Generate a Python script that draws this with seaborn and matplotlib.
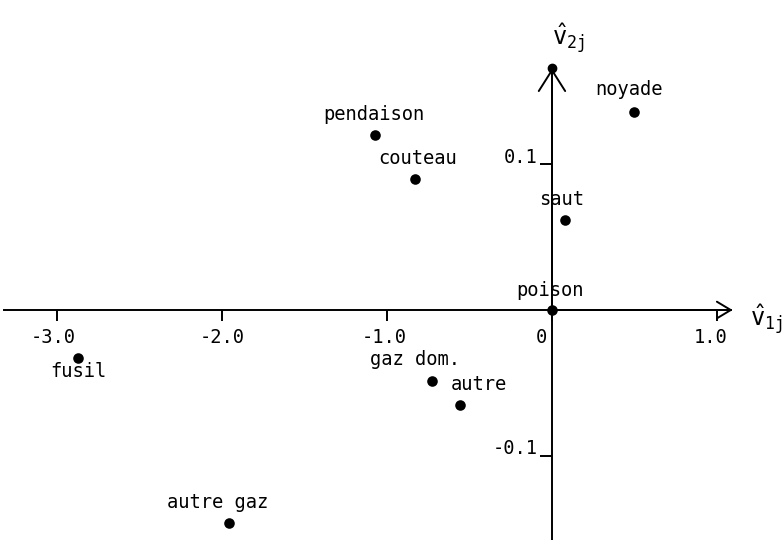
import matplotlib
matplotlib.use("Agg")
import matplotlib.pyplot as plt
import seaborn as sns
import pandas as pd

# ---- data ----
methods = ["noyade", "pendaison", "couteau", "saut", "poison",
           "fusil", "gaz dom.", "autre", "autre gaz"]
v1 = [0.50, -1.07, -0.83, 0.08, 0.00, -2.87, -0.73, -0.56, -1.96]
v2 = [0.136, 0.120, 0.090, 0.062, 0.000, -0.033, -0.049, -0.065, -0.146]

x_ticks = [-3.0, -2.0, -1.0, 0.0, 1.0]
x_tick_labels = ["-3.0", "-2.0", "-1.0", "0", "1.0"]
y_ticks = [0.1, -0.1]
y_tick_labels = ["0.1", "-0.1"]

# ---- styling / placement (pixels) ----
label_offsets_px = {
    "noyade": (-5, 23), "pendaison": (-2, 21), "couteau": (3, 21),
    "saut": (-4, 20), "poison": (-2, 20), "fusil": (0, -13),
    "gaz dom.": (-17, 22), "autre": (19, 20), "autre gaz": (-11, 20),
}
xtick_label_dx_px = [-4, 0, -3, -11, -6]
PX = 0.72  # points per pixel at dpi=100
FS = 13.5

sns.set_theme(style="white")
plt.rcParams["font.family"] = ["DejaVu Sans Mono", "DejaVu Sans"]
plt.rcParams["mathtext.fontset"] = "custom"
plt.rcParams["mathtext.rm"] = "DejaVu Sans Mono"
plt.rcParams["mathtext.it"] = "DejaVu Sans Mono"
plt.rcParams["mathtext.tt"] = "DejaVu Sans Mono"

fig = plt.figure(figsize=(7.82, 5.40), dpi=100)
ax = fig.add_axes([0, 0, 1, 1])
ax.set_facecolor("white")

df = pd.DataFrame({"method": methods, "v1": v1, "v2": v2})
sns.scatterplot(data=df, x="v1", y="v2", color="black", s=58,
                linewidth=0, ax=ax, legend=False, zorder=5)

ax.set_xlim(-3.345, 1.394)
ax.set_ylim(-0.158, 0.213)

# axes crossing at origin
for side in ["top", "right"]:
    ax.spines[side].set_visible(False)
ax.spines["left"].set_position(("data", 0))
ax.spines["bottom"].set_position(("data", 0))
ax.spines["left"].set_bounds(-0.158, 0.164)
ax.spines["bottom"].set_bounds(-3.32, 1.085)
for side in ["left", "bottom"]:
    ax.spines[side].set_color("black")
    ax.spines[side].set_linewidth(1.4)

ax.set_xticks(x_ticks, labels=[""] * len(x_ticks))
ax.set_yticks(y_ticks, labels=[""] * len(y_ticks))
ax.tick_params(axis="x", bottom=True, direction="out", length=8, width=1.4, color="black")
ax.tick_params(axis="y", left=True, direction="out", length=9, width=1.4, color="black")
ax.set_xlabel("")
ax.set_ylabel("")

# tick labels
for xt, lab, dx in zip(x_ticks, x_tick_labels, xtick_label_dx_px):
    ax.annotate(lab, xy=(xt, 0), xytext=(dx * PX, -27 * PX), textcoords="offset points",
                ha="center", va="center", fontsize=FS, color="black")
for yt, lab in zip(y_ticks, y_tick_labels):
    ax.annotate(lab, xy=(0, yt), xytext=(-14 * PX, 7 * PX), textcoords="offset points",
                ha="right", va="center", fontsize=FS, color="black")

# arrow heads
ax.annotate("", xy=(0, 0.166), xytext=(0, 0.0),
            arrowprops=dict(arrowstyle="->,head_length=15,head_width=9.5",
                            mutation_scale=1, lw=1.4, color="black",
                            shrinkA=0, shrinkB=0))
ax.plot([0], [0.166], marker="o", ms=6, color="black")
ax.annotate("", xy=(1.095, 0), xytext=(0.0, 0),
            arrowprops=dict(arrowstyle="->,head_length=10,head_width=6",
                            mutation_scale=1, lw=1.4, color="black",
                            shrinkA=0, shrinkB=0))

# axis names
ax.text(0.727, 0.928, r"$\hat{\mathrm{v}}_{\mathrm{2j}}$", transform=ax.transAxes,
        ha="center", va="center", fontsize=17, color="black")
ax.text(0.980, 0.408, r"$\hat{\mathrm{v}}_{\mathrm{1j}}$", transform=ax.transAxes,
        ha="center", va="center", fontsize=17, color="black")

# point labels
for m, x, y in zip(methods, v1, v2):
    dx, dy = label_offsets_px[m]
    ax.annotate(m, xy=(x, y), xytext=(dx * PX, dy * PX), textcoords="offset points",
                ha="center", va="center", fontsize=FS, color="black")

fig.savefig("out.png", dpi=100, facecolor="white")
